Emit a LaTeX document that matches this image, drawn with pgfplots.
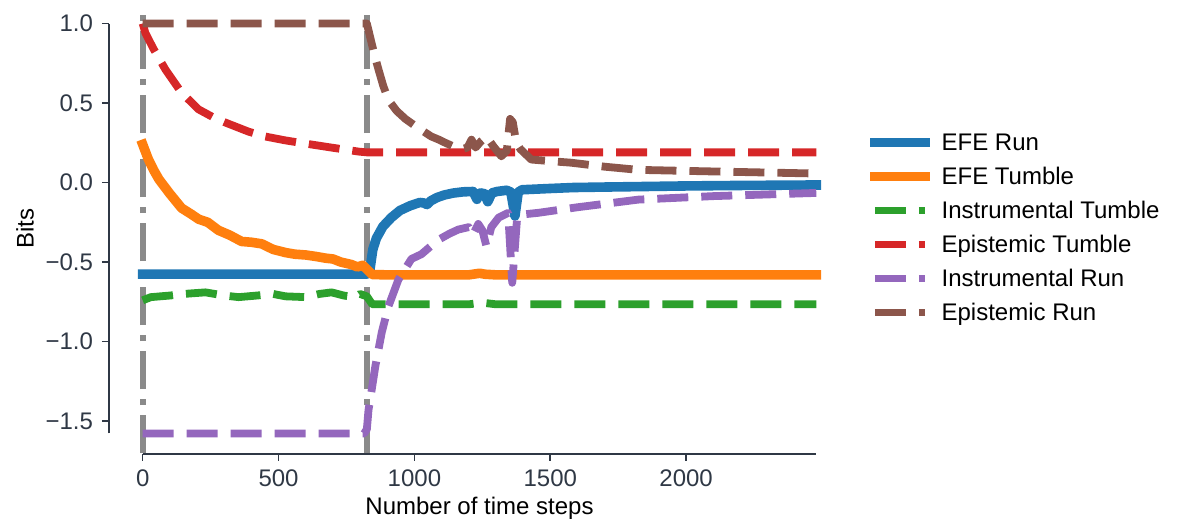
\documentclass[border=0pt]{standalone}
\usepackage{pgfplots}
\pgfplotsset{compat=1.18}
\usepackage{fontspec}
\setmainfont{Liberation Sans}
\definecolor{cblue}{HTML}{1F77B4}
\definecolor{corange}{HTML}{FF7F0E}
\definecolor{cgreen}{HTML}{2CA02C}
\definecolor{cred}{HTML}{D62728}
\definecolor{cpurple}{HTML}{9467BD}
\definecolor{cbrown}{HTML}{8C564B}
\definecolor{cgray}{HTML}{8A8A8A}
\definecolor{spinec}{HTML}{2F3845}
\begin{document}
\begin{tikzpicture}
\begin{axis}[
  name=ax,
  scale only axis,
  width=370.5pt, height=225.5pt,
  xmin=-124, xmax=2603,
  ymin=-1.706, ymax=1.129,
  axis x line*=bottom, axis y line*=left,
  x axis line style={draw=none},
  y axis line style={draw=none},
  tick align=outside,
  major tick length=3.5pt,
  tick style={color=spinec, line width=0.8pt},
  xtick={0,500,1000,1500,2000},
  xticklabels={0,500,1000,1500,2000},
  ytick={-1.5,-1.0,-0.5,0.0,0.5,1.0},
  yticklabels={−1.5,−1.0,−0.5,0.0,0.5,1.0},
  minor tick num=0,
  ticklabel style={font=\fontsize{12}{14}\selectfont, text=spinec},
  xticklabel style={yshift=-1pt},
  yticklabel style={xshift=-1pt},
  xlabel={Number of time steps},
  ylabel={Bits},
  every axis x label/.style={at={(axis description cs:0.5,-0.1197)}, anchor=center, font=\fontsize{12}{14}\selectfont},
  every axis y label/.style={at={(axis description cs:-0.1134,0.5)}, rotate=90, anchor=center, font=\fontsize{12}{14}\selectfont},
  clip=false,
  legend cell align=left,
  legend style={draw=none, fill=none, inner sep=0pt, outer sep=0pt,
    at={([xshift=10pt]rel axis cs:1,0.502)}, anchor=west,
    row sep=6pt, column sep=6pt,
    font=\fontsize{12}{14}\selectfont,
    nodes={inner sep=0pt, text height=9.7pt, text depth=1.3pt}},
  legend image code/.code={\draw[#1] (0pt,0pt) -- (25pt,0pt);},
  solidl/.style={line width=4.8pt, line cap=rect, line join=round},
  dashl/.style={line width=3.9pt, line cap=butt, line join=round, dash pattern=on 15.5pt off 6.5pt},
]
% vertical markers
\addplot[forget plot, color=cgray, line width=3pt, dash pattern=on 19pt off 5pt on 3pt off 5pt] coordinates {(0,-1.70) (0,1.075)};
\addplot[forget plot, color=cgray, line width=3pt, dash pattern=on 19pt off 5pt on 3pt off 5pt] coordinates {(825,-1.70) (825,1.075)};
% EFE Run
\addplot[solidl, color=cblue] coordinates {
(0,-0.575) (825,-0.575) (836,-0.55) (847,-0.42) (860,-0.35) (884,-0.276) (915,-0.22) (947,-0.175)
(985,-0.145) (1020,-0.125) (1035,-0.128) (1046,-0.138) (1060,-0.115) (1083,-0.094) (1110,-0.078)
(1142,-0.066) (1180,-0.058) (1216,-0.056) (1230,-0.105) (1243,-0.065) (1258,-0.07) (1270,-0.12)
(1285,-0.065) (1304,-0.056) (1340,-0.048) (1355,-0.06) (1370,-0.21) (1382,-0.06) (1396,-0.045)
(1500,-0.037) (1584,-0.031) (1700,-0.028) (1830,-0.025) (2000,-0.021) (2200,-0.018) (2479,-0.015)};
\addlegendentry{EFE Run}
% EFE Tumble
\addplot[solidl, color=corange] coordinates {
(0,0.24) (20,0.15) (40,0.08) (60,0.02) (100,-0.07) (143,-0.16) (180,-0.20) (206,-0.23) (240,-0.25)
(279,-0.30) (320,-0.33) (364,-0.37) (400,-0.375) (438,-0.385) (480,-0.42) (526,-0.44) (560,-0.45)
(600,-0.455) (640,-0.465) (673,-0.475) (700,-0.48) (730,-0.50) (768,-0.515) (790,-0.53) (810,-0.52)
(825,-0.545) (845,-0.578) (900,-0.58) (1200,-0.58) (1240,-0.57) (1260,-0.576) (1300,-0.58) (2479,-0.58)};
\addlegendentry{EFE Tumble}
% Instrumental Tumble
\addplot[dashl, color=cgreen] coordinates {
(0,-0.74) (30,-0.72) (100,-0.71) (150,-0.70) (231,-0.69) (300,-0.71) (353,-0.72) (420,-0.71)
(480,-0.70) (526,-0.715) (600,-0.72) (650,-0.70) (695,-0.69) (740,-0.71) (783,-0.72) (800,-0.70)
(825,-0.715) (845,-0.765) (1200,-0.765) (1250,-0.755) (1300,-0.765) (2479,-0.765)};
\addlegendentry{Instrumental Tumble}
% Epistemic Tumble
\addplot[dashl, color=cred] coordinates {
(0,1.0) (10,0.94) (40,0.84) (84,0.71) (143,0.565) (206,0.46) (260,0.41) (305,0.377) (390,0.32)
(450,0.29) (526,0.265) (600,0.245) (695,0.22) (794,0.195) (825,0.19) (2479,0.19)};
\addlegendentry{Epistemic Tumble}
% Instrumental Run
\addplot[dashl, color=cpurple] coordinates {
(0,-1.577) (815,-1.577) (825,-1.55) (831,-1.43) (843,-1.30) (856,-1.156) (880,-0.94) (904,-0.78)
(941,-0.61) (989,-0.48) (1026,-0.45) (1060,-0.40) (1088,-0.36) (1130,-0.32) (1162,-0.295)
(1200,-0.28) (1215,-0.33) (1235,-0.26) (1250,-0.30) (1265,-0.40) (1283,-0.28) (1310,-0.22)
(1345,-0.19) (1360,-0.63) (1378,-0.22) (1400,-0.20) (1456,-0.19) (1600,-0.155) (1824,-0.107)
(2100,-0.085) (2479,-0.065)};
\addlegendentry{Instrumental Run}
% Epistemic Run
\addplot[dashl, color=cbrown] coordinates {
(0,1.0) (825,1.0) (842,0.88) (855,0.79) (868,0.71) (885,0.61) (904,0.52) (935,0.45) (967,0.40)
(1000,0.36) (1026,0.33) (1062,0.29) (1090,0.27) (1114,0.25) (1140,0.23) (1173,0.21) (1195,0.22)
(1210,0.27) (1225,0.22) (1245,0.26) (1265,0.29) (1290,0.23) (1320,0.165) (1340,0.20) (1352,0.40)
(1362,0.38) (1375,0.25) (1390,0.21) (1430,0.145) (1500,0.135) (1577,0.125) (1700,0.10) (1824,0.08)
(2100,0.07) (2479,0.057)};
\addlegendentry{Epistemic Run}
% trimmed spines
\draw[spinec, line width=0.9pt] (axis cs:-124,-1.577) -- (axis cs:-124,1.0);
\draw[spinec, line width=0.9pt] (axis cs:0,-1.706) -- (axis cs:2479,-1.706);
\end{axis}
\pgfresetboundingbox
\path ([xshift=-54.5pt,yshift=-34.5pt]ax.south west) rectangle ([xshift=534.5pt,yshift=227pt]ax.south west);
\end{tikzpicture}
\end{document}
